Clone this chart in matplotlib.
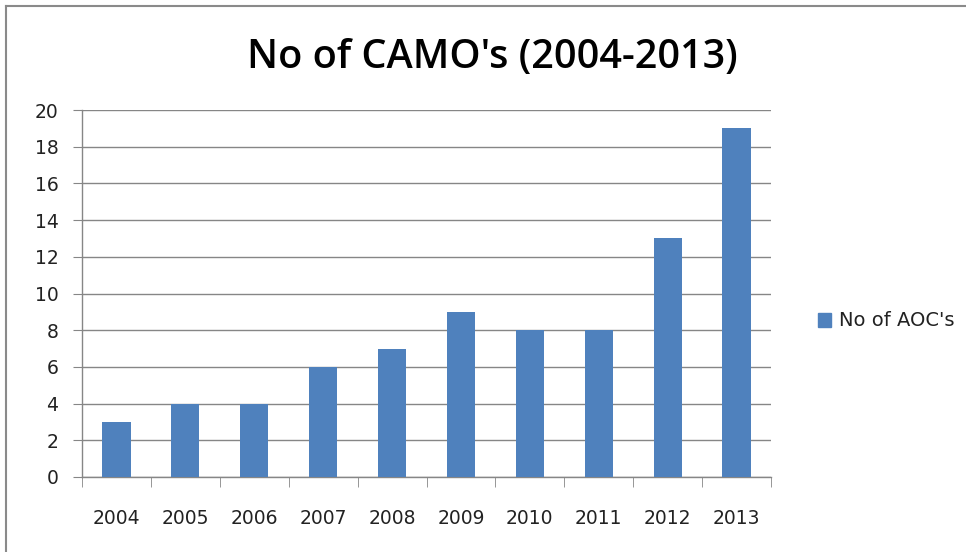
import matplotlib
matplotlib.use("Agg")
import matplotlib.pyplot as plt
from matplotlib.patches import Rectangle
from matplotlib.lines import Line2D

years = ["2004", "2005", "2006", "2007", "2008", "2009", "2010", "2011", "2012", "2013"]
counts = [3, 4, 4, 6, 7, 9, 8, 8, 13, 19]
series_name = "No of AOC's"
title = "No of CAMO's (2004-2013)"
yticks = list(range(0, 21, 2))

plt.rcParams['font.family'] = ['DejaVu Sans']

W, H = 966, 552
fig = plt.figure(figsize=(W / 100, H / 100), dpi=100)
fig.patch.set_facecolor("white")

# Chart frame (only top and left visible)
fig.add_artist(Line2D([6 / W, 6 / W], [0, 1 - 6 / H], color="#8a8a8a", lw=1.5, transform=fig.transFigure))
fig.add_artist(Line2D([6 / W, 1], [1 - 6 / H, 1 - 6 / H], color="#8a8a8a", lw=1.5, transform=fig.transFigure))

ax = fig.add_axes([82 / W, 1 - 477 / H, (771 - 82) / W, (477 - 110) / H])
grid_c = "#868686"
x = list(range(len(years)))
ax.bar(x, counts, width=0.41, color="#4f81bd", zorder=3, label=series_name)
ax.set_xlim(-0.5, len(years) - 0.5)
ax.set_ylim(0, 20)
ax.set_yticks(yticks)
ax.set_yticklabels([str(v) for v in yticks], fontsize=13.5, color="#222222")
ax.yaxis.grid(True, color=grid_c, lw=1, zorder=0)
ax.set_xticks(x)
ax.set_xticklabels(years, fontsize=13.5, color="#222222")
ax.tick_params(axis="x", length=0, pad=23)
ax.tick_params(axis="y", length=6.5, color=grid_c, pad=10.5)
# category boundary ticks
ax.set_xticks([i - 0.5 for i in range(len(years) + 1)], minor=True)
ax.tick_params(axis="x", which="minor", length=7, color=grid_c, direction="out")
for s in ["top", "right"]:
    ax.spines[s].set_visible(False)
for s in ["left", "bottom"]:
    ax.spines[s].set_color(grid_c)
    ax.spines[s].set_linewidth(1)

fig.text(492 / W, 1 - 68 / H, title, ha="center", va="baseline", fontsize=28.5,
         fontweight="semibold", color="black", family=["Open Sans", "DejaVu Sans"])

leg = fig.legend(handles=[Rectangle((0, 0), 1, 1, color="#4f81bd")], labels=[series_name],
                 loc="center left", bbox_to_anchor=(808 / W, 1 - 321 / H), frameon=False,
                 prop={"size": 14}, handlelength=0.7, handleheight=0.7, handletextpad=0.4, borderpad=0,
                 labelcolor="#222222")

fig.savefig("out.png", dpi=100, facecolor="white")
